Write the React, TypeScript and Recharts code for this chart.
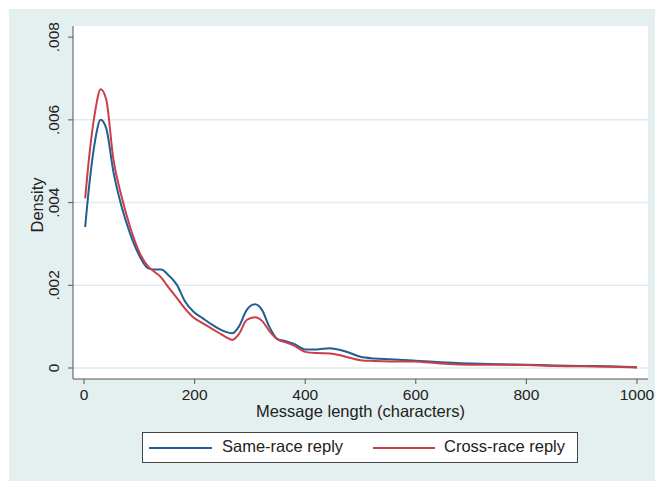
import React from 'react';
import { LineChart, Line, XAxis, YAxis, CartesianGrid, ReferenceLine } from 'recharts';

// message length (characters)
const lengths = [
  2, 10, 20, 30, 40, 53, 68, 83, 101, 116, 130, 140, 150, 168, 183, 198, 215, 230, 245, 255,
  268, 280, 294, 309, 322, 335, 350, 365, 380, 400, 420, 445, 465, 480, 500, 525, 553, 595,
  644, 700, 750, 800, 850, 900, 950, 1000,
];

// density, same-race replies
const sameRace = [
  0.00341, 0.0045, 0.0055, 0.006, 0.0058, 0.00475, 0.0039, 0.00326, 0.00269, 0.00241, 0.00238,
  0.00238, 0.00228, 0.00201, 0.0016, 0.00136, 0.0012, 0.00106, 0.00094, 0.00088, 0.00084, 0.001,
  0.0014, 0.00154, 0.0014, 0.001, 0.0007, 0.00065, 0.00058, 0.00045, 0.00045, 0.00048, 0.00043,
  0.00037, 0.00027, 0.00023, 0.00021, 0.00018, 0.00014, 0.00011, 0.00009, 0.00008, 0.00006,
  0.00005, 0.00004, 0.00002,
];

// density, cross-race replies
const crossRace = [
  0.0041, 0.0052, 0.0062, 0.00674, 0.0065, 0.00505, 0.00414, 0.00342, 0.00277, 0.00245, 0.0023,
  0.00218, 0.002, 0.00169, 0.00143, 0.00122, 0.00108, 0.00096, 0.00084, 0.00076, 0.00068, 0.00082,
  0.00116, 0.00123, 0.00114, 0.0009, 0.00069, 0.00062, 0.00054, 0.00039, 0.00036, 0.00035, 0.0003,
  0.00025, 0.00019, 0.00017, 0.00016, 0.00016, 0.00011, 0.00008, 0.00008, 0.00007, 0.00005,
  0.00004, 0.00003, 0.00001,
];

const xTicks = [0, 200, 400, 600, 800, 1000];
const yTicks = [0, 0.002, 0.004, 0.006, 0.008];
const gridValues = [0, 0.002, 0.004, 0.006];

const data = lengths.map((len, i) => ({ len, same: sameRace[i], cross: crossRace[i] }));

const BLUE = '#1f5f94';
const RED = '#cc3d47';
const FONT = '"Liberation Sans", Arial, Helvetica, sans-serif';

const fmtY = (v: number) => (v === 0 ? '0' : v.toFixed(3).replace(/^0/, ''));

const YTick = (props: any) => {
  const { x, y, payload } = props;
  return (
    <text
      x={x}
      y={y}
      transform={`rotate(-90 ${x} ${y})`}
      textAnchor="middle"
      fontSize={15.5}
      fill="#222"
      fontFamily={FONT}
    >
      {fmtY(payload.value)}
    </text>
  );
};

export default function App() {
  return (
    <div style={{ position: 'absolute', left: 0, top: 0, width: 655, height: 481, background: '#fff' }}>
      <div style={{ position: 'absolute', left: 9, top: 9, right: 0, bottom: 0, background: '#e4eff0' }} />
      <div style={{ position: 'absolute', left: 0, top: 0 }}>
        <LineChart width={655} height={481} data={data} margin={{ top: 26, right: 7, left: 0, bottom: 72 }}>
          <CartesianGrid fill="#ffffff" fillOpacity={1} horizontal={false} vertical={false} />
          {gridValues.map((v) => (
            <ReferenceLine key={v} y={v} stroke="#e0ebee" strokeWidth={1.5} />
          ))}
          <XAxis
            dataKey="len"
            type="number"
            domain={[-20, 1020]}
            ticks={xTicks}
            allowDataOverflow
            height={30}
            tickSize={5}
            tickMargin={5}
            stroke="#555"
            tick={{ fontSize: 15.5, fill: '#222', fontFamily: FONT }}
            label={{
              content: () => (
                <text x={360.5} y={417} textAnchor="middle" fontSize={16.5} fill="#222" fontFamily={FONT}>
                  Message length (characters)
                </text>
              ),
            }}
          />
          <YAxis
            type="number"
            domain={[-0.000266, 0.00827]}
            ticks={yTicks}
            allowDataOverflow
            width={73}
            tickSize={5}
            tickMargin={9}
            stroke="#555"
            tick={<YTick />}
            label={{
              content: () => (
                <text
                  x={43}
                  y={205}
                  transform="rotate(-90 43 205)"
                  textAnchor="middle"
                  fontSize={16.5}
                  fill="#222"
                  fontFamily={FONT}
                >
                  Density
                </text>
              ),
            }}
          />
          <Line
            type="monotone"
            dataKey="same"
            stroke={BLUE}
            strokeWidth={2}
            dot={false}
            isAnimationActive={false}
          />
          <Line
            type="monotone"
            dataKey="cross"
            stroke={RED}
            strokeWidth={2}
            dot={false}
            isAnimationActive={false}
          />
        </LineChart>
      </div>
      <div
        style={{
          position: 'absolute',
          left: 142,
          top: 432,
          width: 436,
          height: 31,
          boxSizing: 'border-box',
          border: '1px solid #444',
          background: '#fff',
          fontFamily: FONT,
          fontSize: 16.5,
          color: '#222',
        }}
      >
        <div style={{ position: 'absolute', left: 6, top: 14, width: 63, height: 2, background: BLUE }} />
        <div style={{ position: 'absolute', left: 79, top: 4, whiteSpace: 'nowrap' }}>Same-race reply</div>
        <div style={{ position: 'absolute', left: 230, top: 14, width: 62, height: 2, background: RED }} />
        <div style={{ position: 'absolute', left: 301, top: 4, whiteSpace: 'nowrap' }}>Cross-race reply</div>
      </div>
    </div>
  );
}
